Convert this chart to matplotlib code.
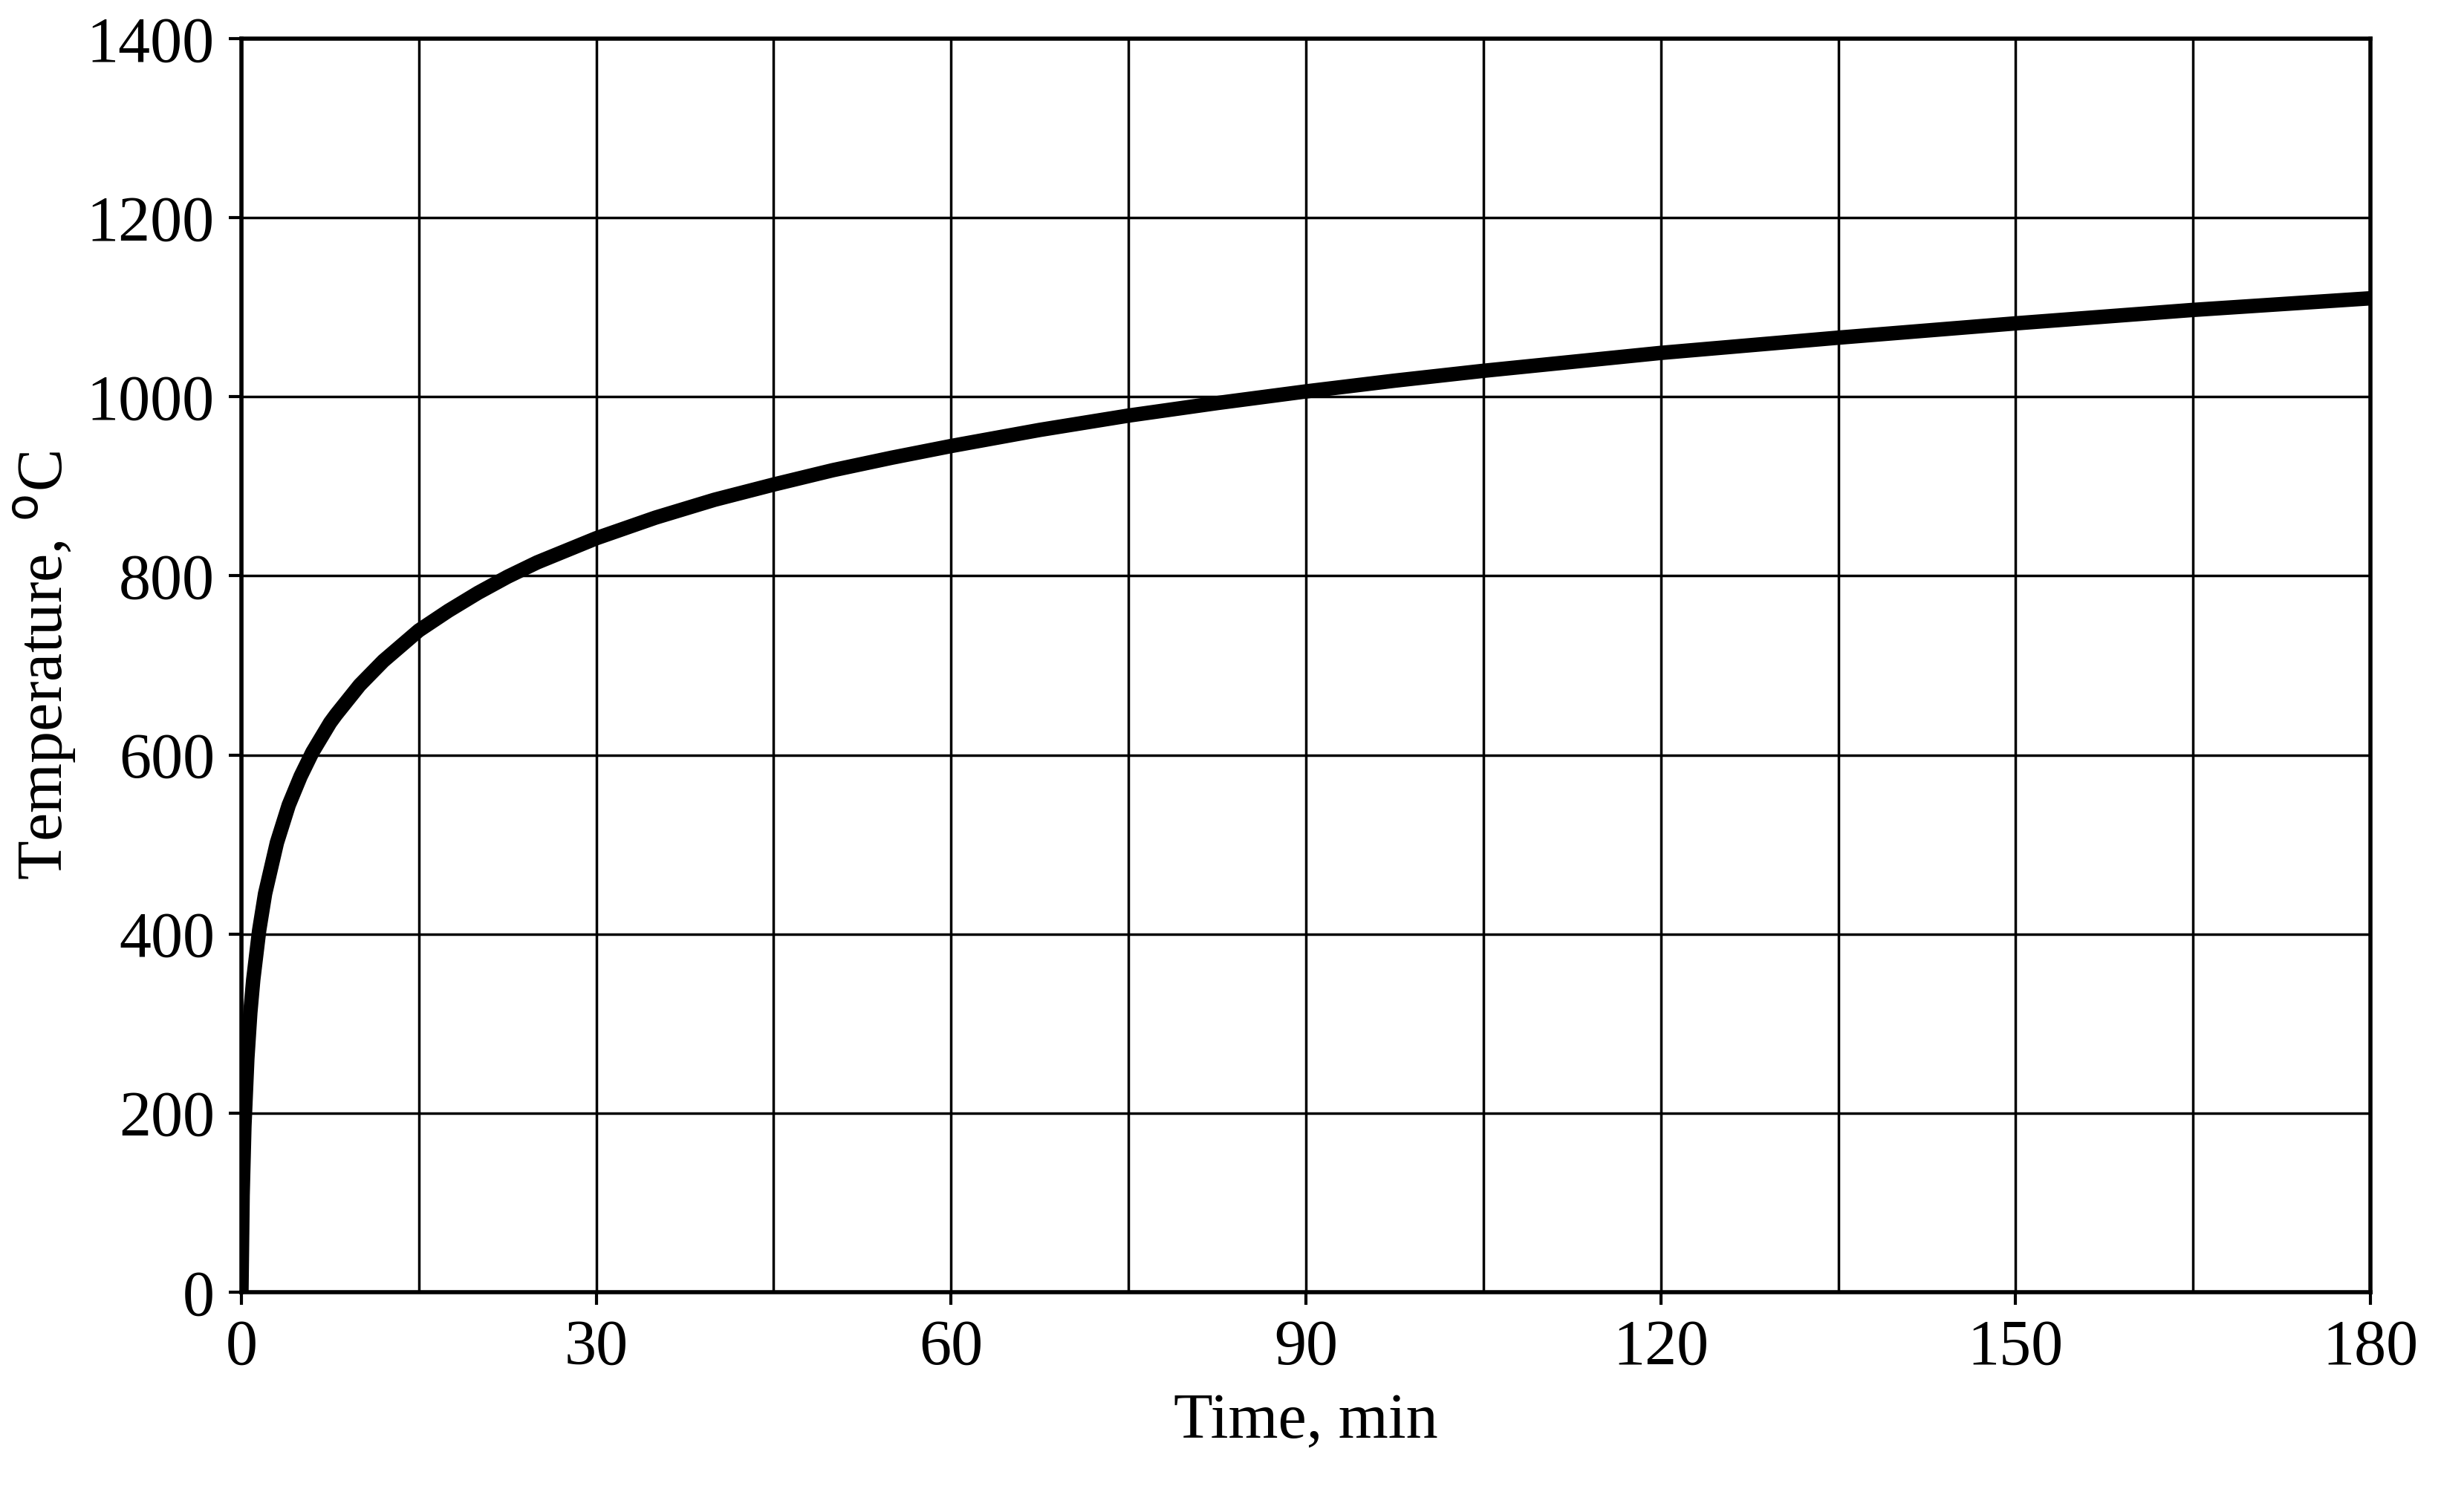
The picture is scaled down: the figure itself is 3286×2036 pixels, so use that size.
import matplotlib
matplotlib.use("Agg")
import matplotlib.pyplot as plt

time_min = [0, 0.1, 0.25, 0.5, 0.75, 1, 1.5, 2, 3, 4, 5, 6, 7.5, 8, 10, 12, 15, 17.5, 20, 22.5, 25, 30, 35, 40, 45, 50, 55, 60, 67.5, 75, 82.5, 90, 97.5, 105, 112.5, 120, 135, 150, 165, 180]
temp_c = [0, 108, 185, 261, 312, 349, 404, 445, 502, 544, 576, 603, 636, 645, 678, 705, 739, 761, 781, 799, 815, 842, 865, 885, 902, 918, 932, 945, 963, 979, 993, 1006, 1018, 1029, 1039, 1049, 1066, 1082, 1097, 1110]
x_ticks = [0, 30, 60, 90, 120, 150, 180]
y_ticks = [0, 200, 400, 600, 800, 1000, 1200, 1400]

plt.rcParams['font.family'] = ['Liberation Serif', 'DejaVu Serif']
fig = plt.figure(figsize=(32.87, 20.36), dpi=100)
ax = fig.add_axes([325/3287, 1-1740/2036, (3191-325)/3287, (1740-52)/2036])
ax.plot(time_min, temp_c, color='black', lw=14, solid_capstyle='butt', solid_joinstyle='round')
ax.set_xlim(0, 180)
ax.set_ylim(0, 1400)
ax.set_xticks(x_ticks)
ax.set_xticks(range(15, 180, 30), minor=True)
ax.set_yticks(y_ticks)
ax.grid(True, which='both', color='black', lw=2.5)
for s in ax.spines.values():
    s.set_linewidth(4)
ax.tick_params(labelsize=62, width=3, length=12, pad=14)
ax.tick_params(which='minor', length=0)
ax.set_xlabel('Time, min', fontsize=62, labelpad=14)
ax.set_ylabel('Temperature, $^{\\mathrm{o}}$C', fontsize=62, labelpad=8)
fig.savefig('out.png', dpi=100)
